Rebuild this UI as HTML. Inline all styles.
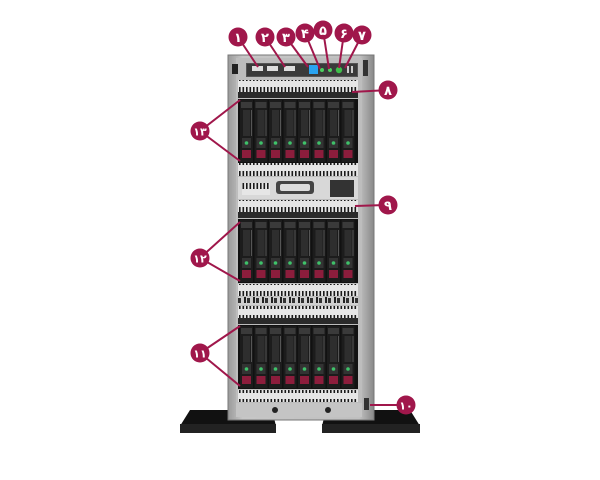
<!DOCTYPE html>
<html><head><meta charset="utf-8"><style>
html,body{margin:0;padding:0;background:#fff;width:600px;height:480px;overflow:hidden}
text{font-family:"DejaVu Sans","Liberation Sans",sans-serif;font-weight:bold;fill:#fff;text-anchor:middle}
</style></head><body>
<svg width="600" height="480" viewBox="0 0 600 480" xmlns="http://www.w3.org/2000/svg">
<defs>
<pattern id="vent" x="0" y="0" width="3.5" height="12" patternUnits="userSpaceOnUse">
<rect width="3.5" height="12" fill="#e6e6e6"/><rect x="1" y="3" width="1.6" height="6" fill="#1a1a1a"/>
</pattern>
<pattern id="grill" x="0" y="0" width="9" height="8" patternUnits="userSpaceOnUse">
<rect width="9" height="8" fill="#d0d0d0"/><rect x="1" y="1" width="2" height="6" fill="#222"/><rect x="4" y="2" width="3" height="5" fill="#333"/>
</pattern>
<linearGradient id="chs" x1="0" x2="1"><stop offset="0" stop-color="#9a9a9a"/><stop offset="0.1" stop-color="#c6c6c6"/><stop offset="0.9" stop-color="#c0c0c0"/><stop offset="1" stop-color="#888"/></linearGradient>
<g id="drive">
<rect x="0" y="0" width="13" height="62" fill="#1c1c1c"/>
<rect x="1" y="2" width="11" height="6" fill="#3a3a3a"/>
<rect x="3" y="10" width="7" height="26" fill="#2e2e2e"/>
<rect x="11" y="10" width="1" height="26" fill="#555"/>
<rect x="2" y="38" width="9" height="10" fill="#333"/>
<circle cx="6.5" cy="43" r="1.8" fill="#3fc26a"/>
<rect x="2" y="50" width="9" height="8" fill="#8c1d3c"/>
</g>
<g id="bay">
<rect x="238" y="0" width="120" height="6" fill="#2a2a2a"/>
<rect x="238" y="7" width="120" height="64" fill="#111"/>
<use href="#drive" x="240" y="8"/><use href="#drive" x="254.5" y="8"/><use href="#drive" x="269" y="8"/><use href="#drive" x="283.5" y="8"/>
<use href="#drive" x="298" y="8"/><use href="#drive" x="312.5" y="8"/><use href="#drive" x="327" y="8"/><use href="#drive" x="341.5" y="8"/>
</g>
</defs>
<!-- feet -->
<path d="M190 410 L272 410 L276 426 L180 426 Z" fill="#111"/>
<rect x="180" y="424" width="96" height="9" fill="#222"/>
<path d="M326 410 L410 410 L420 426 L322 426 Z" fill="#111"/>
<rect x="322" y="424" width="98" height="9" fill="#222"/>
<!-- chassis -->
<rect x="228" y="55" width="146" height="365" fill="url(#chs)"/>
<rect x="228" y="55" width="146" height="365" fill="none" stroke="#777" stroke-width="1"/>
<rect x="236" y="58" width="126" height="357" fill="#bdbdbd"/>
<rect x="232" y="64" width="6" height="10" fill="#222"/>
<rect x="363" y="60" width="5" height="16" fill="#333"/>
<!-- control panel -->
<rect x="246" y="63" width="112" height="14" fill="#555"/>
<rect x="247" y="64" width="110" height="12" fill="#3a3a3a"/>
<rect x="252" y="66" width="11" height="5" fill="#ddd"/><rect x="267" y="66" width="11" height="5" fill="#ddd"/><rect x="284" y="66" width="11" height="5" fill="#ddd"/>
<rect x="309" y="65" width="9" height="9" fill="#2aa3f0"/>
<circle cx="322" cy="70" r="2" fill="#4ccf5f"/><circle cx="330" cy="70" r="2" fill="#4ccf5f"/>
<circle cx="339" cy="70" r="3.2" fill="#3fbf4a"/>
<rect x="347" y="66" width="2" height="7" fill="#ccc"/><rect x="351" y="66" width="2" height="7" fill="#ccc"/>
<!-- section 1 -->
<rect x="238" y="80" width="120" height="12" fill="url(#vent)"/>
<use href="#bay" y="92"/>
<rect x="238" y="163" width="120" height="13" fill="url(#vent)"/>
<!-- middle panel -->
<rect x="238" y="177" width="120" height="22" fill="#d8d8d8"/>
<rect x="242" y="183" width="28" height="12" fill="url(#vent)"/>
<rect x="276" y="181" width="38" height="13" rx="3" fill="#444"/>
<rect x="280" y="184" width="30" height="7" rx="2" fill="#ddd"/>
<rect x="330" y="180" width="24" height="17" fill="#333"/>
<rect x="238" y="200" width="120" height="12" fill="url(#vent)"/>
<!-- section 2 -->
<use href="#bay" y="212"/>
<rect x="238" y="284" width="120" height="12" fill="url(#vent)"/>
<rect x="238" y="297" width="120" height="8" fill="url(#grill)"/>
<rect x="238" y="306" width="120" height="12" fill="url(#vent)"/>
<!-- section 3 -->
<use href="#bay" y="318"/>
<rect x="238" y="390" width="120" height="12" fill="url(#vent)"/>
<rect x="236" y="403" width="126" height="14" fill="#c4c4c4"/>
<circle cx="275" cy="410" r="3" fill="#222"/><circle cx="328" cy="410" r="3" fill="#222"/>
<rect x="364" y="398" width="5" height="12" fill="#333"/>
<!-- callout lines -->
<g stroke="#a0174b" stroke-width="2" fill="none">
<line x1="238" y1="37" x2="258" y2="67"/>
<line x1="265" y1="37" x2="285" y2="67"/>
<line x1="286" y1="37" x2="308" y2="67"/>
<line x1="305" y1="33" x2="320" y2="69"/>
<line x1="323" y1="30" x2="329" y2="69"/>
<line x1="344" y1="33" x2="339" y2="68"/>
<line x1="362" y1="35" x2="345" y2="68"/>
<line x1="388" y1="90" x2="352" y2="92"/>
<line x1="388" y1="205" x2="355" y2="206"/>
<line x1="406" y1="405" x2="370" y2="405"/>
<polyline points="240,100 200,131 240,161"/>
<polyline points="240,222 200,258 240,281"/>
<polyline points="240,326 200,353 240,386"/>
</g>
<g fill="#a0174b">
<circle cx="238" cy="37" r="9.5"/><circle cx="265" cy="37" r="9.5"/><circle cx="286" cy="37" r="9.5"/>
<circle cx="305" cy="33" r="9.5"/><circle cx="323" cy="30" r="9.5"/><circle cx="344" cy="33" r="9.5"/><circle cx="362" cy="35" r="9.5"/>
<circle cx="388" cy="90" r="9.5"/><circle cx="388" cy="205" r="9.5"/><circle cx="406" cy="405" r="9.5"/>
<circle cx="200" cy="131" r="9.5"/><circle cx="200" cy="258" r="9.5"/><circle cx="200" cy="353" r="9.5"/>
</g>
<g font-size="13">
<text x="238" y="42">۱</text><text x="265" y="42">۲</text><text x="286" y="42">۳</text>
<text x="305" y="38">۴</text><text x="323" y="35">۵</text><text x="344" y="38">۶</text><text x="362" y="40">۷</text>
<text x="388" y="95">۸</text><text x="388" y="210">۹</text>
<text x="406" y="409.5" font-size="11">۱۰</text>
<text x="200" y="135.5" font-size="11">۱۳</text><text x="200" y="262.5" font-size="11">۱۲</text><text x="200" y="357.5" font-size="11">۱۱</text>
</g>
</svg>
</body></html>
